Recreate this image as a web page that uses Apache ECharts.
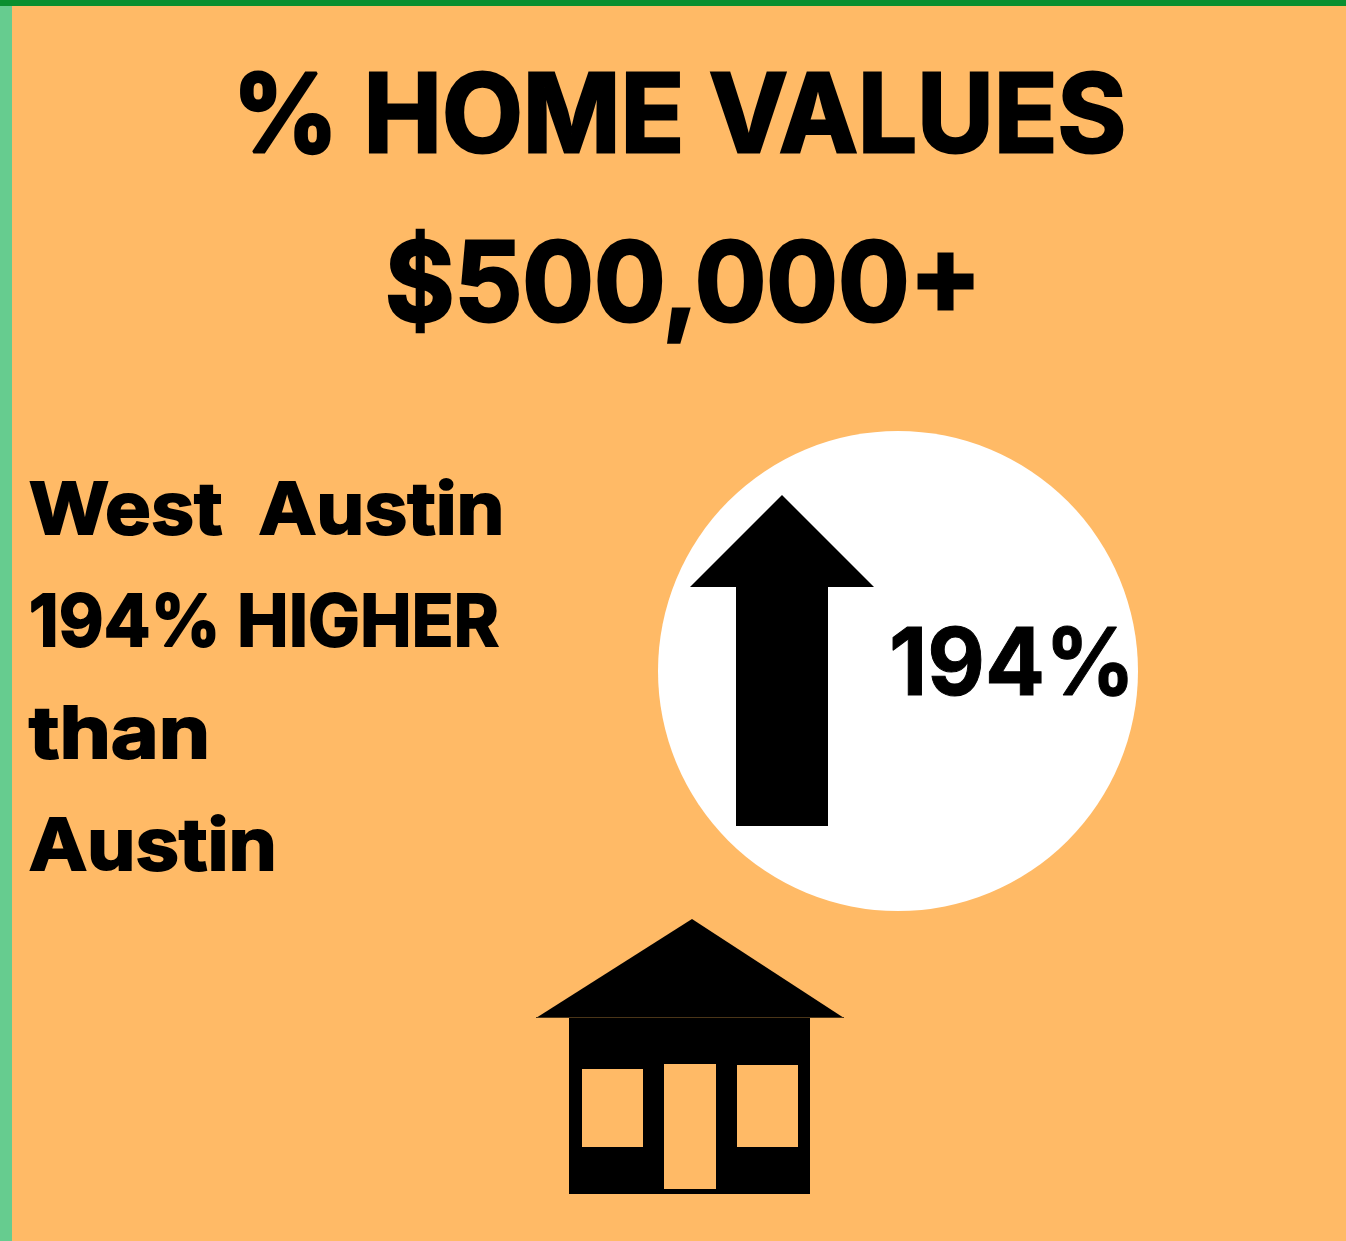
<!DOCTYPE html>
<html>
<head>
<meta charset="utf-8">
<title>% Home Values</title>
<style>
  html, body { margin: 0; padding: 0; background: #ffba66; }
  #main { width: 1346px; height: 1241px; }
</style>
<script src="https://cdn.jsdelivr.net/npm/echarts@6/dist/echarts.min.js"></script>
</head>
<body>
<div id="main"></div>
<script>
const titleLines = ["% HOME VALUES", "$500,000+"];
const bodyLines = ["West  Austin", "194% HIGHER", "than", "Austin"];
const increaseLabel = "194%";

const BG = "#ffba66";
const FONT = "Inter";

// text helper, sx fits the width and stroke fattens it since Poppins is not installed
function text(str, x, y, size, sx, thicken) {
  return {
    type: "text",
    x: x,
    y: y,
    scaleX: sx,
    style: {
      text: str,
      fill: "#000",
      stroke: thicken ? "#000" : null,
      lineWidth: thicken || 0,
      font: "700 " + size + "px " + FONT,
      textAlign: "left",
      textVerticalAlign: "middle"
    }
  };
}

function box(x1, y1, x2, y2, fill) {
  return { type: "rect", shape: { x: x1, y: y1, width: x2 - x1, height: y2 - y1 }, style: { fill: fill } };
}

function poly(points) {
  return { type: "polygon", shape: { points: points }, style: { fill: "#000" } };
}

const chart = echarts.init(document.getElementById("main"));
chart.setOption({
  backgroundColor: BG,
  animation: false,
  graphic: [
    box(0, 0, 12, 1241, "#66cc8f"),
    box(0, 0, 1346, 6, "#0a8f2f"),

    text(titleLines[0], 232, 120, 108, 0.972, 3),
    text(titleLines[1], 385, 288, 110, 0.965, 3),

    text(bodyLines[0], 29, 512, 72, 1.07, 2),
    text(bodyLines[1], 29, 624, 72, 0.96, 2),
    text(bodyLines[2], 29, 736, 72, 1.147, 2),
    text(bodyLines[3], 29, 848, 72, 1.08, 2),

    { type: "circle", shape: { cx: 898, cy: 671, r: 240 }, style: { fill: "#fff" } },
    poly([[782, 495], [874, 587], [828, 587], [828, 826], [736, 826], [736, 587], [690, 587]]),
    text(increaseLabel, 889, 667, 93, 0.955, 1),

    poly([[692, 919], [844, 1018], [536, 1018]]),
    box(569, 1018, 810, 1194, "#000"),
    box(536, 1017, 844, 1018, "#4a3518"),
    box(582, 1069, 643, 1147, BG),
    box(664, 1064, 716, 1189, BG),
    box(737, 1065, 798, 1147, BG)
  ]
});
</script>
</body>
</html>
